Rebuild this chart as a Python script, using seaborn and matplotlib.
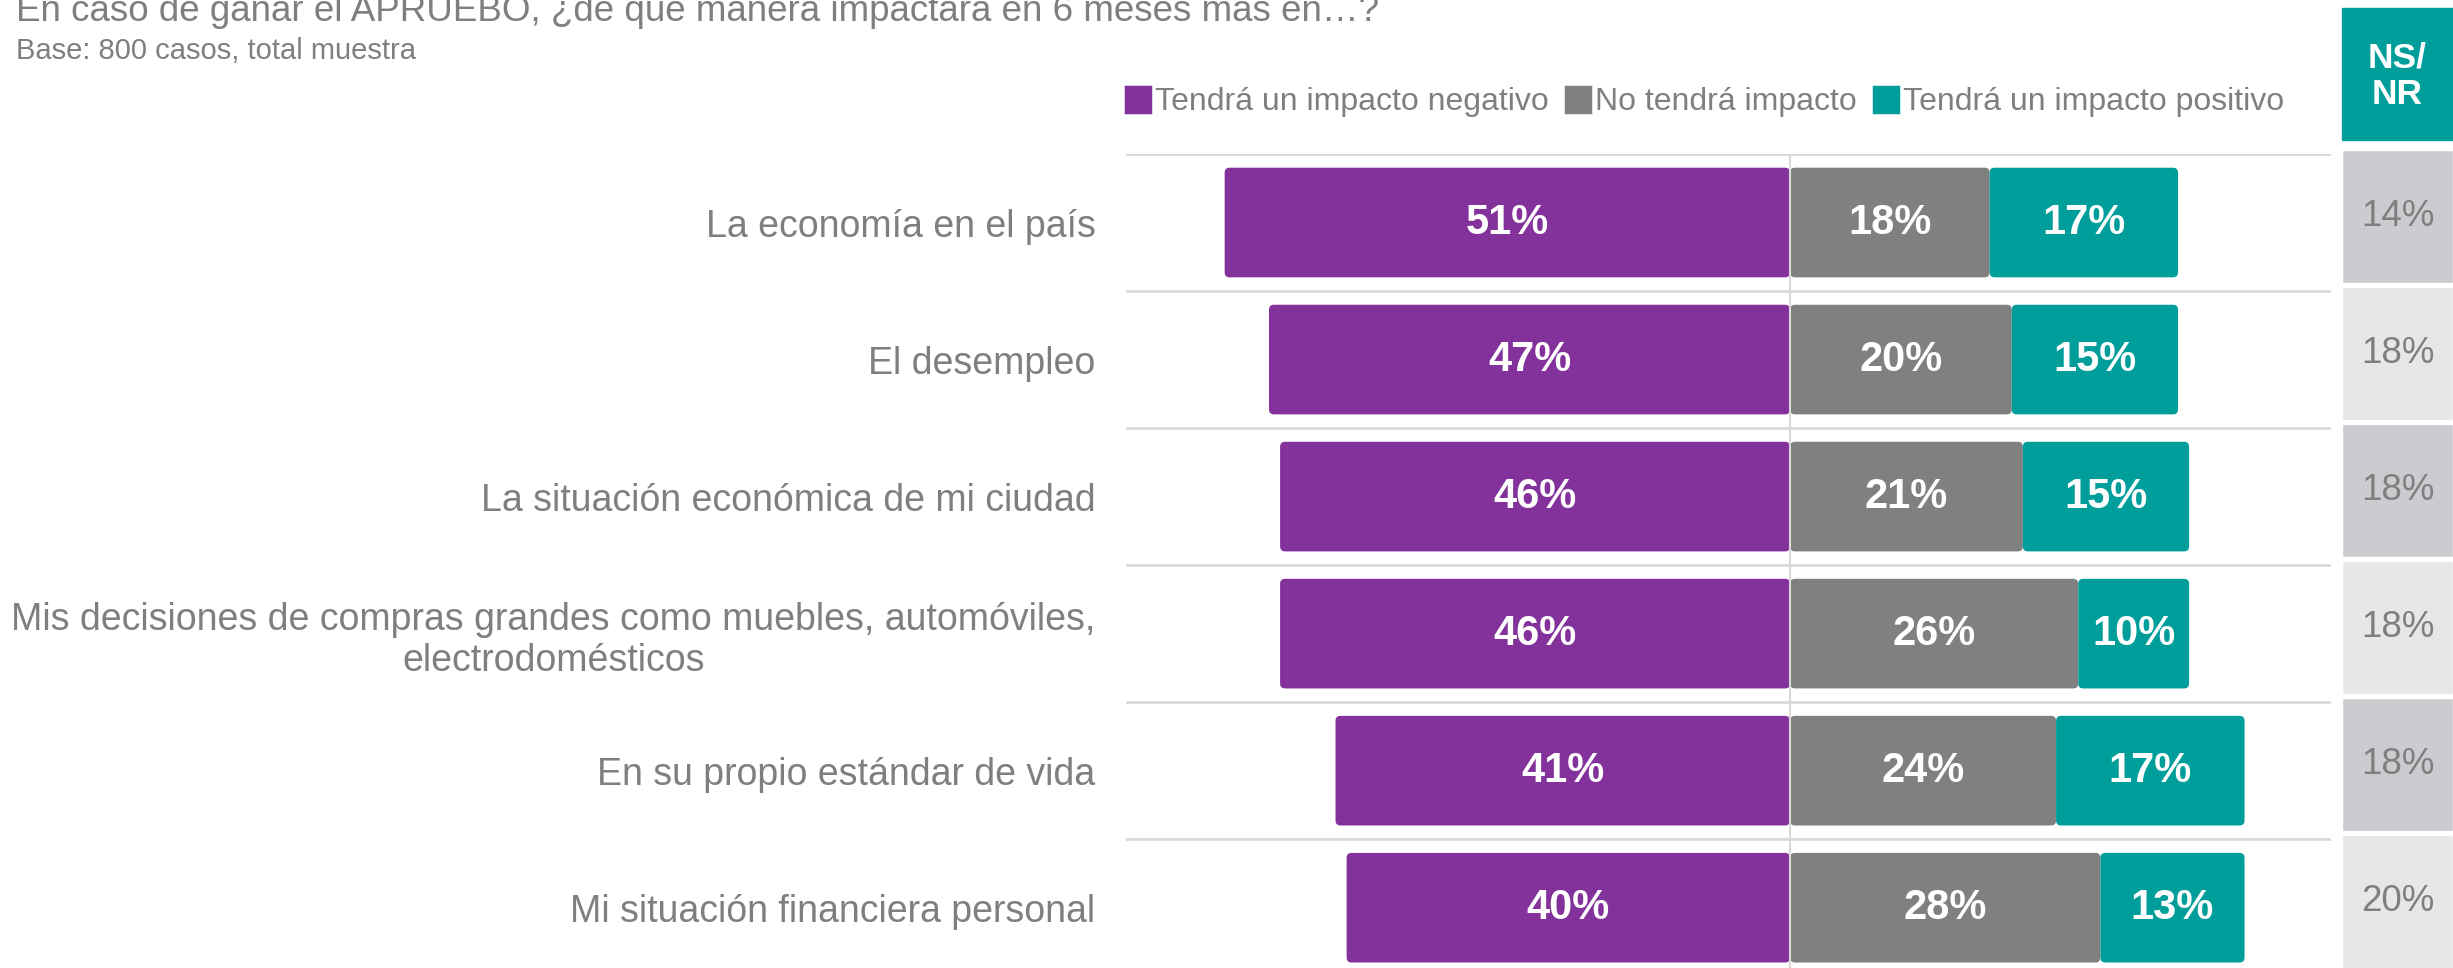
import matplotlib
matplotlib.use("Agg")
import matplotlib.pyplot as plt
from matplotlib.patches import FancyBboxPatch, Rectangle, Patch
import seaborn as sns
import pandas as pd

# datos
ITEMS = [
    "La economía en el país",
    "El desempleo",
    "La situación económica de mi ciudad",
    "Mis decisiones de compras grandes como muebles, automóviles,\nelectrodomésticos",
    "En su propio estándar de vida",
    "Mi situación financiera personal",
]
NEGATIVO = [51, 47, 46, 46, 41, 40]
SIN_IMPACTO = [18, 20, 21, 26, 24, 28]
POSITIVO = [17, 15, 15, 10, 17, 13]
NSNR = [14, 18, 18, 18, 18, 20]
SERIES = ["Tendrá un impacto negativo", "No tendrá impacto", "Tendrá un impacto positivo"]

TITLE = "En caso de ganar el APRUEBO, ¿de qué manera impactará en 6 meses más en…?"
SUBTITLE = "Base: 800 casos, total muestra"

COLORS = ["#84329B", "#808080", "#009E9B"]
CELL_COLORS = ["#CBCCD0", "#E6E7E9"]
TXT = "#7F7F7F"
GRID = "#D9D9D9"

sns.set_theme(style="white")
plt.rcParams['font.family'] = ['Liberation Sans', 'DejaVu Sans']

W, H = 2453, 968
def fx(px):
    return px / W
def fy(py):
    return 1 - py / H

fig = plt.figure(figsize=(W / 100, H / 100), dpi=100)

## main diverging bars ##
ax = fig.add_axes([fx(1126), 0, fx(2331 - 1126), (H - 154) / H])
df = pd.DataFrame({"item": ITEMS,
                   "neg": [-v for v in NEGATIVO],
                   "neu": SIN_IMPACTO,
                   "pos": POSITIVO})
sns.barplot(data=df, y="item", x="neg", color=COLORS[0], width=0.8,
            saturation=1, errorbar=None, ax=ax)
sns.barplot(data=df, y="item", x="neu", color=COLORS[1], width=0.8,
            saturation=1, errorbar=None, ax=ax)
sns.barplot(data=df, y="item", x="pos", left=SIN_IMPACTO, color=COLORS[2],
            width=0.8, saturation=1, errorbar=None, ax=ax)

xlim = (-59.9, 48.8)
ylim = (5.44, -0.5)
ax.set_xlim(xlim)
ax.set_ylim(ylim)

# rounded corners: swap each rectangle for a rounded box of same size
ax_w = fx(2331 - 1126) * W
ax_h = H - 154
aspect = (ax_w / (xlim[1] - xlim[0])) / (ax_h / (ylim[0] - ylim[1]))
for rect in list(ax.patches):
    x, y, w, h = rect.get_x(), rect.get_y(), rect.get_width(), rect.get_height()
    x0 = min(x, x + w)
    box = FancyBboxPatch((x0, y), abs(w), h,
                         boxstyle="round,pad=0,rounding_size=0.45",
                         mutation_aspect=aspect,
                         fc=rect.get_facecolor(), ec="none", zorder=2)
    rect.remove()
    ax.add_patch(box)

# value labels
for i in range(len(ITEMS)):
    kw = dict(ha="center", va="center", color="white", fontsize=30,
              fontweight="bold", zorder=5)
    ax.text(-NEGATIVO[i] / 2, i, f"{NEGATIVO[i]}%", **kw)
    ax.text(SIN_IMPACTO[i] / 2, i, f"{SIN_IMPACTO[i]}%", **kw)
    ax.text(SIN_IMPACTO[i] + POSITIVO[i] / 2, i, f"{POSITIVO[i]}%", **kw)

for yy in [i - 0.5 for i in range(len(ITEMS))]:
    ax.axhline(yy, color=GRID, lw=2, zorder=0)
ax.axvline(0, color=GRID, lw=1.5, zorder=4)

sns.despine(ax=ax, left=True, bottom=True)
ax.set_xlabel("")
ax.set_ylabel("")
ax.set_xticks([])
ax.tick_params(axis="y", length=0, pad=22, labelsize=27, labelcolor=TXT)
for lbl in ax.get_yticklabels():
    lbl.set_multialignment("center")

## NS/NR column ##
ax2 = fig.add_axes([fx(2342), 0, 1 - fx(2342), (H - 148) / H])
df2 = pd.DataFrame({"item": ITEMS, "full": [100] * len(ITEMS)})
pal = [CELL_COLORS[i % 2] for i in range(len(ITEMS))]
sns.barplot(data=df2, y="item", x="full", hue="item", palette=pal,
            width=0.965, saturation=1, errorbar=None, legend=False, ax=ax2)
ax2.set_xlim(0, 100)
ax2.set_ylim(-0.5 + (H - 148) / 137, -0.5)
for i, v in enumerate(NSNR):
    ax2.text(50, i, f"{v}%", ha="center", va="center", color=TXT, fontsize=26.5)
ax2.axis("off")

fig.patches.append(Rectangle((fx(2342), fy(140)), 1 - fx(2342), (140 - 8) / H,
                             transform=fig.transFigure, color=COLORS[2]))
fig.text(fx(2397), fy(76), "NS/\nNR", ha="center", va="center", color="white",
         fontsize=25.5, fontweight="bold", linespacing=1.15)

## legend ##
handles = [Patch(fc=c, ec=c, lw=2.5, joinstyle="round", label=s)
           for c, s in zip(COLORS, SERIES)]
fig.legend(handles=handles, loc="center left", bbox_to_anchor=(fx(1126), fy(102)),
           ncol=3, frameon=False, fontsize=23, labelcolor=TXT,
           handlelength=0.75, handleheight=0.85, handletextpad=0.15,
           columnspacing=0.55, borderpad=0, borderaxespad=0)

## titles ##
fig.text(fx(16), fy(21), TITLE, ha="left", va="baseline", color=TXT, fontsize=26.5)
fig.text(fx(16), fy(59), SUBTITLE, ha="left", va="baseline", color=TXT, fontsize=21)

fig.savefig("out.png", dpi=100)
